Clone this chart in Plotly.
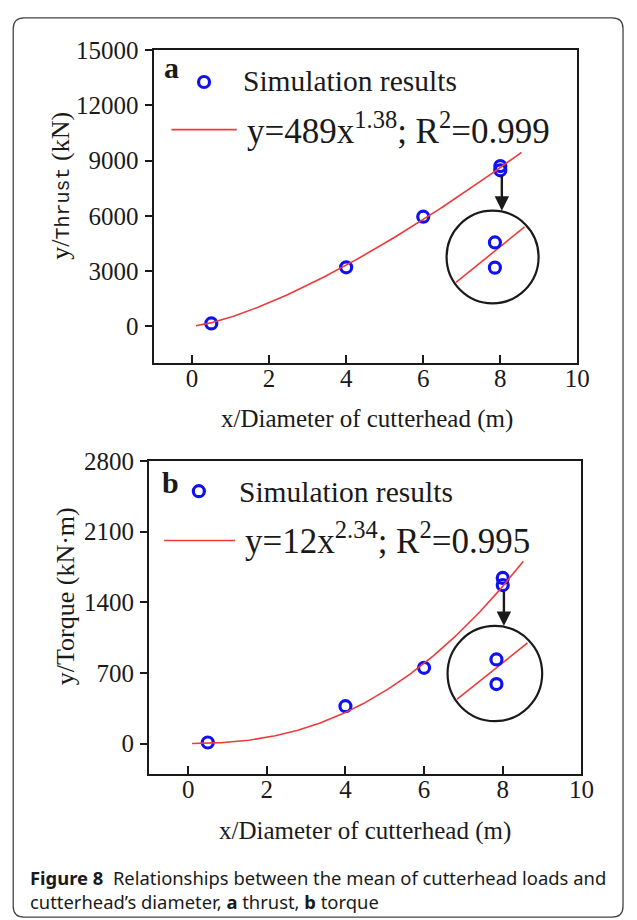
import numpy as np
import plotly.graph_objects as go

W, H = 637, 920

# ---- data -------------------------------------------------------------
diameter = [0.5, 4, 6, 8, 8]                 # cutterhead diameter (m)
thrust = [150, 3200, 5950, 8700, 8470]       # mean thrust (kN)
torque = [10, 370, 750, 1640, 1570]          # mean torque (kN·m)

thrust_fit = {"coef": 489, "exp": 1.38, "r2": "0.999", "x": [0.1, 8.55]}
torque_fit = {"coef": 12, "exp": 2.34, "r2": "0.995", "x": [0.1, 8.52]}

x_ticks = [0, 2, 4, 6, 8, 10]
thrust_ticks = [0, 3000, 6000, 9000, 12000, 15000]
torque_ticks = [0, 700, 1400, 2100, 2800]

# magnified view of the two overlapping points at x = 8
zoom_a_pts_x = [7.86, 7.86]
zoom_a_pts_y = [4553, 3182]
zoom_a_line_x = [6.85, 8.63]
zoom_a_line_y = [2379, 5394]
zoom_a_circle = [7.80, 3761, 1.194, 2518]   # cx, cy, rx, ry
zoom_a_arrow = [8.04, 8292, 6279]           # x, tail y, head y

zoom_b_pts_x = [7.84, 7.84]
zoom_b_pts_y = [833, 589]
zoom_b_line_x = [6.84, 8.63]
zoom_b_line_y = [439, 996]
zoom_b_circle = [7.80, 693, 1.203, 471.5]
zoom_b_arrow = [8.03, 1523, 1164]


def px(x):
    return x / W


def py(y):
    return 1 - y / H


SERIF = "Liberation Serif"
BLUE = "#1010f0"
RED = "#f03a3a"
INK = "#1a1a1a"

fig = go.Figure()


def add_panel(xa, ya, vals, fit, pts_x, pts_y, line_x, line_y, circ, arrow):
    # simulation results
    fig.add_trace(go.Scatter(
        x=diameter, y=vals, mode="markers", xaxis=xa, yaxis=ya,
        marker=dict(symbol="circle-open", size=11, color=BLUE,
                    line=dict(width=3.2, color=BLUE)),
        showlegend=False, hoverinfo="x+y"))
    # power-law fit y = a x^b
    xf = np.linspace(fit["x"][0], fit["x"][1], 200)
    yf = fit["coef"] * xf ** fit["exp"]
    fig.add_trace(go.Scatter(
        x=xf, y=yf, mode="lines", xaxis=xa, yaxis=ya,
        line=dict(color=RED, width=1.6), showlegend=False, hoverinfo="skip"))
    # magnified inset
    fig.add_trace(go.Scatter(
        x=line_x, y=line_y, mode="lines", xaxis=xa, yaxis=ya,
        line=dict(color=RED, width=1.6), showlegend=False, hoverinfo="skip"))
    fig.add_trace(go.Scatter(
        x=pts_x, y=pts_y, mode="markers", xaxis=xa, yaxis=ya,
        marker=dict(symbol="circle-open", size=11, color=BLUE,
                    line=dict(width=3.2, color=BLUE)),
        showlegend=False, hoverinfo="skip"))
    cx, cy, rx, ry = circ
    xr = "x" if xa == "x" else "x2"
    yr = "y" if ya == "y" else "y2"
    fig.add_shape(type="circle", xref=xr, yref=yr,
                  x0=cx - rx, x1=cx + rx, y0=cy - ry, y1=cy + ry,
                  line=dict(color=INK, width=2.2))
    fig.add_annotation(xref=xr, yref=yr, axref=xr, ayref=yr,
                       x=arrow[0], y=arrow[2], ax=arrow[0], ay=arrow[1],
                       text="", showarrow=True, arrowhead=2, arrowsize=1.2,
                       arrowwidth=2.4, arrowcolor=INK, standoff=0)


add_panel("x", "y", thrust, thrust_fit, zoom_a_pts_x, zoom_a_pts_y,
          zoom_a_line_x, zoom_a_line_y, zoom_a_circle, zoom_a_arrow)
add_panel("x2", "y2", torque, torque_fit, zoom_b_pts_x, zoom_b_pts_y,
          zoom_b_line_x, zoom_b_line_y, zoom_b_circle, zoom_b_arrow)

axis_common = dict(showline=True, linecolor=INK, linewidth=1.8, mirror=True,
                   showgrid=False, zeroline=False, tickcolor=INK,
                   tickwidth=1.6, tickfont=dict(family=SERIF, size=25, color=INK))

fig.update_layout(
    width=W, height=H, autosize=False,
    margin=dict(l=0, r=0, t=0, b=0),
    paper_bgcolor="white", plot_bgcolor="white",
    xaxis=dict(domain=[px(156.7), px(589.4)], range=[-1, 10], anchor="y",
               tickvals=x_ticks, ticktext=[str(v) for v in x_ticks],
               ticks="inside", ticklen=8, ticklabelstandoff=-8, **axis_common),
    yaxis=dict(domain=[py(355), py(37.7)], range=[-2000, 15000], anchor="x",
               tickvals=thrust_ticks, ticktext=[str(v) for v in thrust_ticks],
               ticks="outside", ticklen=7, ticklabelstandoff=1, **axis_common),
    xaxis2=dict(domain=[px(151.9), px(593.5)], range=[-1, 10], anchor="y2",
                tickvals=x_ticks, ticktext=[str(v) for v in x_ticks],
                ticks="inside", ticklen=8, ticklabelstandoff=-8, **axis_common),
    yaxis2=dict(domain=[py(771.7), py(454.3)], range=[-300, 2800], anchor="x2",
                tickvals=torque_ticks, ticktext=[str(v) for v in torque_ticks],
                ticks="outside", ticklen=7, ticklabelstandoff=1, **axis_common),
)


def text(x, y, s, size, xanchor="left", angle=0, family=SERIF, yanchor="middle"):
    fig.add_annotation(xref="paper", yref="paper", x=px(x), y=py(y), text=s,
                       showarrow=False, xanchor=xanchor, yanchor=yanchor,
                       textangle=angle, align="left",
                       font=dict(family=family, size=size, color=INK))


# axis titles
text(61.5, 175,
     "y/<span style=\"font-family:'Liberation Mono';font-size:20px\">Thrust</span> (kN)",
     26, xanchor="center", angle=-90)
text(67, 592, "y/Torque (kN·m)", 26, xanchor="center", angle=-90)
text(375, 412, "x/Diameter of cutterhead (m)", 25, xanchor="center")
text(373, 830, "x/Diameter of cutterhead (m)", 25, xanchor="center")

# panel letters
text(165, 55, "<b>a</b>", 30)
text(163, 476, "<b>b</b>", 30)


# legends
def legend(mx, my, lx0, lx1, ly, t1x, t1y, t2x, t2y, fit):
    fig.add_shape(type="circle", xref="paper", yref="paper",
                  xsizemode="pixel", ysizemode="pixel",
                  xanchor=px(mx), yanchor=py(my), x0=-5.5, x1=5.5, y0=-5.5, y1=5.5,
                  line=dict(color=BLUE, width=3.2))
    fig.add_shape(type="line", xref="paper", yref="paper",
                  x0=px(lx0), x1=px(lx1), y0=py(ly), y1=py(ly),
                  line=dict(color=RED, width=1.6))
    text(t1x, t1y, "Simulation results", 29.5)
    eq = "y=%gx<sup>%g</sup>; R<sup>2</sup>=%s" % (fit["coef"], fit["exp"], fit["r2"])
    text(t2x, t2y, eq, 35)


legend(208.3, 70, 175, 241.7, 118.3, 246, 69, 250, 117, thrust_fit)
legend(203, 485, 167.5, 240, 535, 242, 486, 248, 533, torque_fit)

# caption
text(29, 862, "<b>Figure 8</b>  Relationships between the mean of cutterhead loads and"
     "<br>cutterhead’s diameter, <b>a</b> thrust, <b>b</b> torque",
     18.4, family="Noto Sans", yanchor="top")

# rounded frame around figure and caption
x0, x1, y0, y1, r = 13.5, 636, 5, 917, 11
path = (f"M {px(x0 + r)},{py(y0)} L {px(x1 - r)},{py(y0)} "
        f"Q {px(x1)},{py(y0)} {px(x1)},{py(y0 + r)} "
        f"L {px(x1)},{py(y1 - r)} Q {px(x1)},{py(y1)} {px(x1 - r)},{py(y1)} "
        f"L {px(x0 + r)},{py(y1)} Q {px(x0)},{py(y1)} {px(x0)},{py(y1 - r)} "
        f"L {px(x0)},{py(y0 + r)} Q {px(x0)},{py(y0)} {px(x0 + r)},{py(y0)} Z")
fig.add_shape(type="path", xref="paper", yref="paper", path=path,
              line=dict(color="#444", width=1.3), layer="below")

fig.write_html("out.html")
